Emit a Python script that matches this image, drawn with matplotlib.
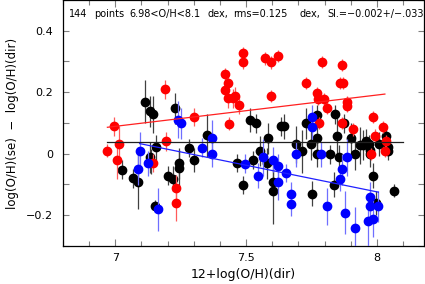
import matplotlib
matplotlib.use('Agg')
import matplotlib.pyplot as plt
from matplotlib.ticker import MultipleLocator

plt.rcParams['font.family'] = ['DejaVu Sans']

# black points: 12+log(O/H)(dir), difference, error
black_x = [7.112, 7.134, 7.145, 7.230, 7.350, 7.515, 7.536, 7.583, 7.632, 7.644,
           7.692, 7.730, 7.770, 7.770, 7.838, 7.847, 7.874, 7.902, 7.958, 7.945,
           7.971, 7.973, 7.975, 8.033, 8.041, 8.041, 8.009, 7.155, 7.281, 7.302,
           7.554, 7.578, 7.525, 7.466, 7.770, 7.819, 7.855, 7.986, 7.027, 7.134,
           7.138, 7.067, 7.087, 7.202, 7.221, 7.243, 7.243, 7.152, 7.488, 7.602,
           7.603, 7.751, 7.712, 7.837, 7.916, 7.996, 8.063, 7.935, 7.748]
black_y = [0.169, 0.138, 0.128, 0.148, 0.060, 0.110, 0.099, 0.050, 0.089, 0.089,
           0.031, 0.099, 0.127, 0.050, 0.128, 0.059, 0.099, 0.050, 0.041, 0.028,
           0.031, 0.012, -0.002, 0.059, 0.023, 0.008, 0.031, 0.021, 0.019, -0.021,
           0.009, -0.031, -0.021, -0.031, -0.002, -0.002, -0.011, -0.071, -0.052, -0.012,
           -0.026, -0.080, -0.091, -0.071, -0.081, -0.031, -0.047, -0.169, -0.102, -0.091,
           -0.120, -0.130, 0.008, -0.101, -0.002, -0.160, -0.120, 0.027, 0.030]
black_err = [0.07, 0.05, 0.06, 0.05, 0.07, 0.04, 0.03, 0.05, 0.03, 0.04,
             0.06, 0.05, 0.03, 0.05, 0.03, 0.06, 0.03, 0.05, 0.04, 0.05,
             0.03, 0.03, 0.04, 0.03, 0.03, 0.03, 0.04, 0.04, 0.03, 0.04,
             0.05, 0.05, 0.03, 0.03, 0.04, 0.03, 0.04, 0.04, 0.03, 0.05,
             0.04, 0.03, 0.09, 0.03, 0.04, 0.05, 0.06, 0.02, 0.03, 0.04,
             0.11, 0.04, 0.07, 0.04, 0.05, 0.04, 0.02, 0.06, 0.05]

red_x = [6.968, 6.997, 7.016, 7.008, 7.146, 7.193, 7.190, 7.300, 7.233, 7.233,
         7.419, 7.419, 7.429, 7.429, 7.448, 7.458, 7.474, 7.436, 7.487, 7.487,
         7.573, 7.594, 7.621, 7.594, 7.729, 7.770, 7.776, 7.789, 7.798, 7.809,
         7.865, 7.859, 7.869, 7.887, 7.887, 7.778, 7.868, 7.907, 7.983, 8.022,
         7.993, 8.033, 7.977, 8.031]
red_y = [0.010, 0.089, 0.030, -0.021, -0.030, 0.040, 0.209, 0.119, -0.110, -0.160,
         0.259, 0.207, 0.231, 0.180, 0.180, 0.188, 0.158, 0.098, 0.327, 0.297,
         0.310, 0.297, 0.318, 0.188, 0.229, 0.198, 0.177, 0.298, 0.178, 0.148,
         0.288, 0.229, 0.229, 0.169, 0.155, 0.099, 0.099, 0.079, 0.119, 0.088,
         0.059, 0.042, -0.002, 0.008]
red_err = [0.02, 0.03, 0.06, 0.06, 0.03, 0.03, 0.03, 0.03, 0.04, 0.06,
           0.02, 0.02, 0.02, 0.03, 0.03, 0.03, 0.03, 0.02, 0.02, 0.02,
           0.02, 0.02, 0.02, 0.02, 0.02, 0.02, 0.02, 0.02, 0.02, 0.02,
           0.02, 0.02, 0.02, 0.02, 0.02, 0.02, 0.02, 0.02, 0.02, 0.02,
           0.02, 0.02, 0.02, 0.02]

blue_x = [7.095, 7.087, 7.125, 7.164, 7.239, 7.252, 7.331, 7.369, 7.369, 7.496,
          7.545, 7.565, 7.602, 7.622, 7.621, 7.653, 7.672, 7.672, 7.692, 7.751,
          7.751, 7.787, 7.808, 7.866, 7.858, 7.885, 7.877, 7.916, 7.973, 7.973,
          8.005, 7.965, 7.986]
blue_y = [0.010, -0.051, -0.031, -0.180, 0.110, 0.099, 0.020, 0.050, -0.002, -0.032,
          -0.071, -0.011, -0.019, -0.041, -0.091, -0.062, -0.132, -0.162, -0.002, 0.118,
          0.088, -0.002, -0.171, -0.051, -0.081, -0.011, -0.192, -0.242, -0.141, -0.171,
          -0.171, -0.220, -0.211]
blue_err = [0.06, 0.05, 0.04, 0.07, 0.06, 0.05, 0.03, 0.06, 0.04, 0.03,
            0.04, 0.06, 0.04, 0.04, 0.06, 0.03, 0.04, 0.04, 0.04, 0.04,
            0.04, 0.04, 0.06, 0.05, 0.04, 0.06, 0.07, 0.07, 0.05, 0.05,
            0.05, 0.08, 0.06]

# fitted lines (end points)
black_fit_x = [6.97, 8.10]
black_fit_y = [0.037, 0.037]
red_fit_x = [6.97, 8.03]
red_fit_y = [0.086, 0.194]
blue_fit_x = [7.093, 8.005]
blue_fit_y = [0.033, -0.125]

# header words, spaced out like the original plot package does
title_words = ['144', 'points', '6.98<O/H<8.1', 'dex,', 'rms=0.125', 'dex,',
               'Sl.=\u22120.002+/\u2212.033']
title_pos = [69, 94, 129, 207, 233, 300, 327]   # left edge of each word, px

W, H = 425, 284
fig = plt.figure(figsize=(W / 100, H / 100), dpi=100)
ax = fig.add_axes([0.148, 0.134, 0.85, 0.866])

ms = 6.0
ax.errorbar(black_x, black_y, yerr=black_err, fmt='o', color='black', ms=ms,
            ecolor='#404040', elinewidth=0.9, capsize=0, zorder=2)
ax.errorbar(red_x, red_y, yerr=red_err, fmt='o', color='#ff0000', ms=ms,
            ecolor='#ff5a5a', elinewidth=0.9, capsize=0, zorder=3)
ax.errorbar(blue_x, blue_y, yerr=blue_err, fmt='o', color='#0000ff', ms=ms,
            ecolor='#6f6fff', elinewidth=0.9, capsize=0, zorder=4)

ax.plot(black_fit_x, black_fit_y, color='#202020', lw=0.9, zorder=5)
ax.plot(red_fit_x, red_fit_y, color='#ff2020', lw=0.9, zorder=5)
ax.plot(blue_fit_x, blue_fit_y, color='#2020ff', lw=0.9, zorder=5)

ax.set_xlim(6.8, 8.18)
ax.set_ylim(-0.3, 0.5)
ax.xaxis.set_minor_locator(MultipleLocator(0.1))
ax.yaxis.set_minor_locator(MultipleLocator(0.1))
ax.set_xticks([7, 7.5, 8])
ax.set_xticklabels(['7', '7.5', '8'])
ax.set_yticks([-0.2, 0, 0.2, 0.4])
ax.set_yticklabels(['\u22120.2', '0', '0.2', '0.4'])

ax.tick_params(which='both', direction='in', top=True, right=True,
               color='#808080', width=0.8, labelsize=8)
ax.tick_params(axis='x', which='major', length=5, pad=5)
ax.tick_params(axis='x', which='minor', length=3.5)
ax.tick_params(axis='y', which='both', length=4, pad=7)
for s in ax.spines.values():
    s.set_linewidth(0.9)

ax.set_xlabel('12+log(O/H)(dir)', fontsize=9, labelpad=4)
ax.set_ylabel('log(O/H)(se)  \u2212  log(O/H)(dir)', fontsize=8.5, labelpad=5)
for word, px in zip(title_words, title_pos):
    fig.text(px / W, 1 - 14 / H, word, fontsize=7, ha='left', va='center')

plt.savefig('out.png', dpi=100)
